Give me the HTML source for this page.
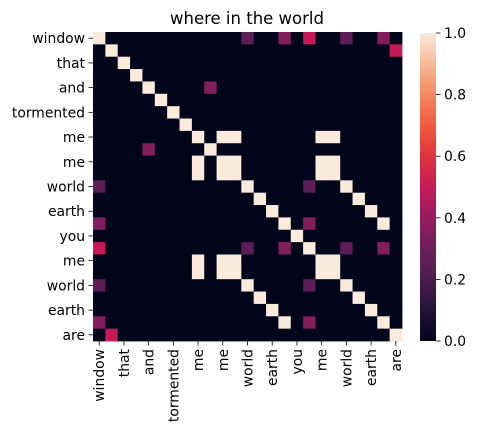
<!DOCTYPE html>
<html><head><meta charset="utf-8"><style>
html,body{margin:0;padding:0;background:#fff;}
svg{display:block;font-family:"DejaVu Sans","Liberation Sans",sans-serif;}
</style></head><body>
<svg id="chart" width="477" height="433" viewBox="0 0 477 433" xmlns="http://www.w3.org/2000/svg">
<text x="247" y="24" text-anchor="middle" font-size="16.5" fill="#000">where in the world</text>
<g id="cells"></g>
<g id="yticks"></g>
<g id="xticks"></g>
<defs><linearGradient id="cbgrad" x1="0" y1="1" x2="0" y2="0"></linearGradient></defs>
<rect x="420" y="33" width="16" height="308" fill="url(#cbgrad)"/>
<g id="cbticks"></g>
</svg>
<script>
const tokens = ["window","","that","","and","","tormented","","me","","me","","world","","earth","","you","","me","","world","","earth","","are"];
const diagValue = 1.0;
// off-diagonal entries [row, col, value], symmetric
const offEntries = [
 [0,12,0.25],[0,15,0.35],[0,17,0.5],[0,20,0.25],[0,23,0.35],
 [1,24,0.5],
 [4,9,0.35],
 [8,10,1],[8,11,1],[8,18,1],[8,19,1],
 [10,11,1],[10,18,1],[10,19,1],[11,18,1],[11,19,1],[18,19,1],
 [12,20,1],[13,21,1],[14,22,1],[15,23,1],
 [12,17,0.25],[15,17,0.35],[17,20,0.25],[17,23,0.35]
];
const cbTicks = [0,0.2,0.4,0.6,0.8,1.0];

const NS="http://www.w3.org/2000/svg";
const n = tokens.length;
const X0=93, Y0=32, W=309, H=309;
const cw=W/n, ch=H/n;
const xPos=i=>X0+i*cw, yPos=i=>Y0+i*ch;
const stops=[[0,"#03051a"],[0.1,"#231336"],[0.2,"#4a1c4f"],[0.3,"#6d1f5a"],[0.4,"#961c5e"],[0.5,"#c51a55"],[0.6,"#e13342"],[0.7,"#ef5a3e"],[0.8,"#f48a60"],[0.9,"#f6b995"],[1,"#faebdd"]];
function hex(h){return [1,3,5].map(k=>parseInt(h.substr(k,2),16));}
function cmap(v){
 v=Math.max(0,Math.min(1,v));
 for(let i=1;i<stops.length;i++){ if(v<=stops[i][0]){const a=stops[i-1],b=stops[i];const t=(v-a[0])/(b[0]-a[0]);const ca=hex(a[1]),cb=hex(b[1]);return "rgb("+ca.map((c,k)=>Math.round(c+(cb[k]-c)*t)).join(",")+")";}}
 return stops[stops.length-1][1];
}
const M=[];for(let r=0;r<n;r++){M.push(new Array(n).fill(0));M[r][r]=diagValue;}
offEntries.forEach(([r,c,v])=>{M[r][c]=v;M[c][r]=v;});
const cells=document.getElementById('cells');
for(let r=0;r<n;r++)for(let c=0;c<n;c++){
 const el=document.createElementNS(NS,'rect');
 el.setAttribute('x',xPos(c));el.setAttribute('y',yPos(r));
 el.setAttribute('width',cw+0.4);el.setAttribute('height',ch+0.4);
 el.setAttribute('fill',cmap(M[r][c]));
 
 
 cells.appendChild(el);
}
const yt=document.getElementById('yticks'), xt=document.getElementById('xticks');
tokens.forEach((t,i)=>{
 if(!t)return;
 const cy=yPos(i)+ch/2;
 const ln=document.createElementNS(NS,'line');
 ln.setAttribute('x1',X0-4.5);ln.setAttribute('x2',X0);ln.setAttribute('y1',cy);ln.setAttribute('y2',cy);ln.setAttribute('stroke','#000');ln.setAttribute('stroke-width','0.8');
 
 
 yt.appendChild(ln);
 const tx=document.createElementNS(NS,'text');
 tx.setAttribute('x',X0-8);tx.setAttribute('y',cy+5);tx.setAttribute('text-anchor','end');tx.setAttribute('font-size','13.9');
 tx.textContent=t;
 
 
 yt.appendChild(tx);
 const cx=xPos(i)+cw/2;
 const l2=document.createElementNS(NS,'line');
 l2.setAttribute('x1',cx);l2.setAttribute('x2',cx);l2.setAttribute('y1',Y0+H);l2.setAttribute('y2',Y0+H+4.5);l2.setAttribute('stroke','#000');l2.setAttribute('stroke-width','0.8');
 
 
 xt.appendChild(l2);
 const t2=document.createElementNS(NS,'text');
 t2.setAttribute('transform','translate('+(cx+5)+','+(Y0+H+8)+') rotate(-90)');
 t2.setAttribute('text-anchor','end');t2.setAttribute('font-size','13.9');
 t2.textContent=t;
 
 
 xt.appendChild(t2);
});
const grad=document.getElementById('cbgrad');
for(let k=0;k<=20;k++){const s=document.createElementNS(NS,'stop');s.setAttribute('offset',k/20);s.setAttribute('stop-color',cmap(k/20));grad.appendChild(s);}
const cbt=document.getElementById('cbticks');
cbTicks.forEach(v=>{
 const y=341-v*308;
 const ln=document.createElementNS(NS,'line');
 ln.setAttribute('x1',436);ln.setAttribute('x2',440.5);ln.setAttribute('y1',y);ln.setAttribute('y2',y);ln.setAttribute('stroke','#000');ln.setAttribute('stroke-width','0.8');
 
 
 cbt.appendChild(ln);
 const tx=document.createElementNS(NS,'text');
 tx.setAttribute('x',444);tx.setAttribute('y',y+5);tx.setAttribute('font-size','13.9');
 tx.textContent=v.toFixed(1);
 
 
 cbt.appendChild(tx);
});
</script>
</body></html>
